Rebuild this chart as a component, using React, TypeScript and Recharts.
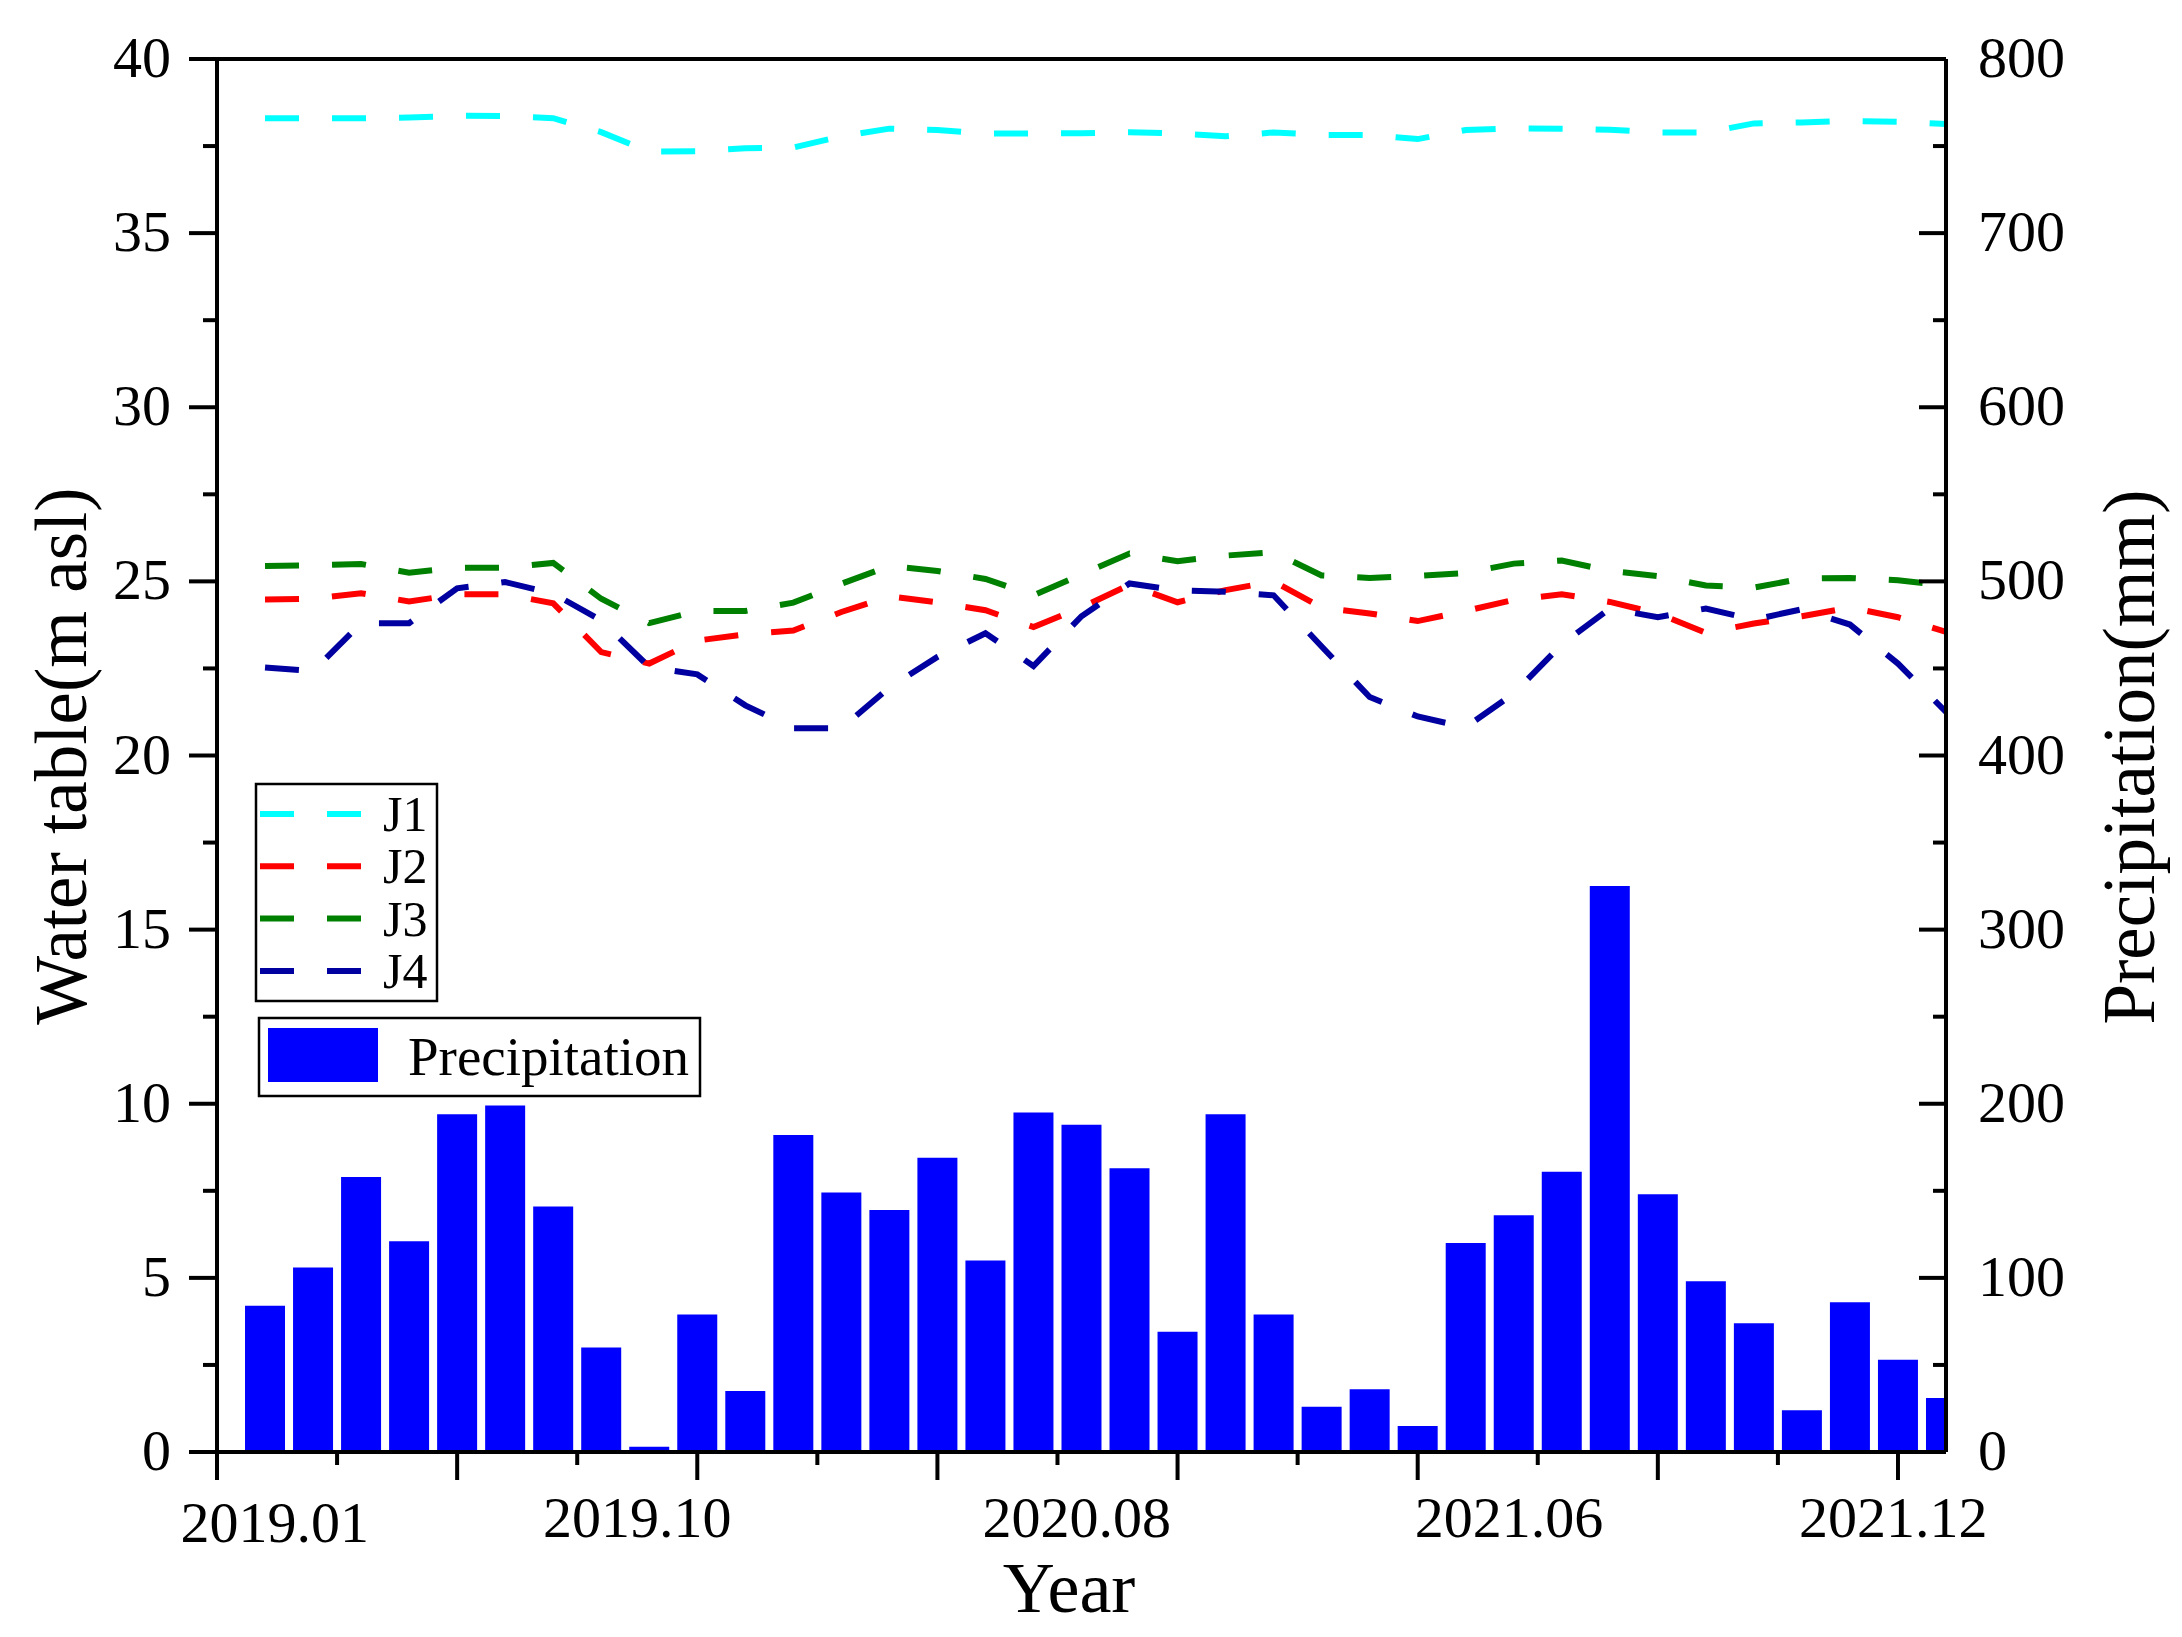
import { ComposedChart, Bar, Line, XAxis, YAxis, ReferenceLine, Legend } from 'recharts';

// #region data
const precipitation = [
  84, 106, 158, 121, 194, 199, 141, 60, 3, 79, 35, 182, 149, 139, 169, 110, 195, 188,
  163, 69, 194, 79, 26, 36, 15, 120, 136, 161, 325, 148, 98, 74, 24, 86, 53, 31,
];
const j1 = [
  38.3, 38.3, 38.3, 38.32, 38.37, 38.36, 38.3, 37.9, 37.34, 37.35, 37.44, 37.46, 37.78, 38.0, 37.96, 37.86, 37.86, 37.87,
  37.9, 37.86, 37.78, 37.89, 37.82, 37.82, 37.7, 37.96, 38.01, 38.0, 37.97, 37.89, 37.89, 38.15, 38.18, 38.22, 38.2, 38.13,
];
const j2 = [
  24.48, 24.5, 24.66, 24.42, 24.63, 24.63, 24.37, 22.97, 22.64, 23.3, 23.48, 23.59, 24.12, 24.57, 24.4, 24.17, 23.69, 24.25,
  24.9, 24.4, 24.75, 25.0, 24.25, 24.08, 23.86, 24.15, 24.47, 24.63, 24.41, 24.08, 23.52, 23.79, 24.0, 24.25, 23.97, 23.55,
];
const j3 = [
  25.44, 25.46, 25.5, 25.25, 25.39, 25.39, 25.53, 24.5, 23.8, 24.15, 24.15, 24.39, 24.93, 25.44, 25.3, 25.07, 24.6, 25.2,
  25.8, 25.58, 25.74, 25.84, 25.17, 25.1, 25.16, 25.24, 25.51, 25.6, 25.3, 25.15, 24.88, 24.82, 25.08, 25.1, 25.03, 24.88,
];
const j4 = [
  22.53, 22.42, 23.8, 23.8, 24.8, 24.98, 24.65, 23.88, 22.54, 22.33, 21.44, 20.78, 20.78, 21.95, 22.83, 23.51, 22.57, 24.0,
  24.94, 24.74, 24.7, 24.6, 23.13, 21.68, 21.12, 20.81, 21.78, 23.19, 24.22, 23.97, 24.22, 23.9, 24.2, 23.76, 22.64, 21.25,
];
// #endregion

const tickLabels = ['2019.01', '2019.10', '2020.08', '2021.06', '2021.12'];
const labelPositions = [1.2, 8.75, 17.9, 26.9, 34.9];
const xTicks = [0, 2.5, 5, 7.5, 10, 12.5, 15, 17.5, 20, 22.5, 25, 27.5, 30, 32.5, 35];
const leftTicks = [0, 2.5, 5, 7.5, 10, 12.5, 15, 17.5, 20, 22.5, 25, 27.5, 30, 32.5, 35, 37.5, 40];
const rightTicks = [0, 50, 100, 150, 200, 250, 300, 350, 400, 450, 500, 550, 600, 650, 700, 750, 800];

const data = precipitation.map((p, i) => ({
  idx: i + 1,
  precip: p,
  J1: j1[i],
  J2: j2[i],
  J3: j3[i],
  J4: j4[i],
}));

const FONT = '"Liberation Serif", "Times New Roman", serif';
const PLOT = { left: 217, right: 1946, top: 59, bottom: 1452 };
const DASH = '34 33';

function LeftTick({ y, payload }: any) {
  const major = payload.value % 5 === 0;
  return (
    <g>
      <line x1={PLOT.left} x2={PLOT.left - (major ? 28 : 14)} y1={y} y2={y} stroke="#000" strokeWidth={4} />
      {major && (
        <text x={171} y={y + 18} textAnchor="end" fontSize={58} fontFamily={FONT} fill="#000">
          {payload.value}
        </text>
      )}
    </g>
  );
}

function RightTick({ y, payload }: any) {
  const major = payload.value % 100 === 0;
  return (
    <g>
      <line x1={PLOT.right} x2={PLOT.right - (major ? 27 : 13)} y1={y} y2={y} stroke="#000" strokeWidth={4} />
      {major && (
        <text x={1978} y={y + 18} textAnchor="start" fontSize={58} fontFamily={FONT} fill="#000">
          {payload.value}
        </text>
      )}
    </g>
  );
}

function BottomTick({ x, payload }: any) {
  const v = payload.value;
  const li = labelPositions.indexOf(v);
  if (li >= 0) {
    return (
      <text x={x} y={li === 0 ? 1542 : 1537} textAnchor="middle" fontSize={58} fontFamily={FONT} fill="#000">
        {tickLabels[li]}
      </text>
    );
  }
  const major = v % 5 === 0;
  return <line x1={x} x2={x} y1={PLOT.bottom} y2={PLOT.bottom + (major ? 28 : 13)} stroke="#000" strokeWidth={4} />;
}

function LegendBoxes({ payload }: any) {
  const items = payload || [];
  const lines = items.filter((p: any) => p.dataKey !== 'precip');
  const bar = items.find((p: any) => p.dataKey === 'precip');
  return (
    <svg width={460} height={330} style={{ display: 'block' }}>
      <rect x={6} y={6} width={181} height={217} fill="#fff" stroke="#000" strokeWidth={2.5} />
      {lines.map((p: any, i: number) => {
        const ly = 36 + i * 52.3;
        return (
          <g key={p.value}>
            <line x1={10} x2={111} y1={ly} y2={ly} stroke={p.color} strokeWidth={6} strokeDasharray={DASH} />
            <text x={133} y={ly + 17} fontSize={50} fontFamily={FONT} fill="#000">
              {p.value}
            </text>
          </g>
        );
      })}
      {bar && (
        <g>
          <rect x={9} y={240} width={441} height={78} fill="#fff" stroke="#000" strokeWidth={2.5} />
          <rect x={18} y={250} width={110} height={54} fill={bar.color} />
          <text x={158} y={297} fontSize={55} fontFamily={FONT} fill="#000">
            {bar.value}
          </text>
        </g>
      )}
    </svg>
  );
}

export default function App() {
  return (
    <div style={{ position: 'absolute', left: 0, top: 0, width: 2182, height: 1637, background: '#fff' }}>
      <ComposedChart width={2182} height={1637} data={data} margin={{ top: PLOT.top, right: 0, bottom: 0, left: 0 }}>
        <XAxis
          dataKey="idx"
          type="number"
          domain={[0, 36]}
          ticks={xTicks.concat(labelPositions)}
          interval={0}
          tick={BottomTick}
          tickLine={false}
          axisLine={{ stroke: '#000', strokeWidth: 4 }}
          height={185}
          allowDataOverflow
          label={() => (
            <text x={1069} y={1612} textAnchor="middle" fontSize={72} fontFamily={FONT} fill="#000">
              Year
            </text>
          )}
        />
        <YAxis
          yAxisId="left"
          domain={[0, 40]}
          ticks={leftTicks}
          interval={0}
          tick={LeftTick}
          tickLine={false}
          axisLine={{ stroke: '#000', strokeWidth: 4 }}
          width={217}
          label={() => (
            <text
              x={86}
              y={756}
              transform="rotate(-90, 86, 756)"
              textAnchor="middle"
              fontSize={73}
              fontFamily={FONT}
              fill="#000"
            >
              Water table(m asl)
            </text>
          )}
        />
        <YAxis
          yAxisId="right"
          orientation="right"
          domain={[0, 800]}
          ticks={rightTicks}
          interval={0}
          tick={RightTick}
          tickLine={false}
          axisLine={{ stroke: '#000', strokeWidth: 4 }}
          width={236}
          label={() => (
            <text
              x={2154}
              y={757}
              transform="rotate(-90, 2154, 757)"
              textAnchor="middle"
              fontSize={73}
              fontFamily={FONT}
              fill="#000"
            >
              Precipitation(mm)
            </text>
          )}
        />
        <ReferenceLine yAxisId="left" y={40} stroke="#000" strokeWidth={4} />

        <Bar dataKey="precip" name="Precipitation" yAxisId="right" fill="#0000FF" barSize={40} isAnimationActive={false} />

        <Line type="linear" dataKey="J1" name="J1" yAxisId="left" stroke="#00FFFF" strokeWidth={6} strokeDasharray={DASH} dot={false} activeDot={false} isAnimationActive={false} />
        <Line type="linear" dataKey="J2" name="J2" yAxisId="left" stroke="#FF0000" strokeWidth={6} strokeDasharray={DASH} dot={false} activeDot={false} isAnimationActive={false} />
        <Line type="linear" dataKey="J3" name="J3" yAxisId="left" stroke="#008000" strokeWidth={6} strokeDasharray={DASH} dot={false} activeDot={false} isAnimationActive={false} />
        <Line type="linear" dataKey="J4" name="J4" yAxisId="left" stroke="#0000A0" strokeWidth={6} strokeDasharray={DASH} dot={false} activeDot={false} isAnimationActive={false} />

        <Legend
          layout="vertical"
          align="center"
          verticalAlign="middle"
          content={LegendBoxes}
          wrapperStyle={{ position: 'absolute', left: 250, top: 778, width: 460, height: 330, margin: 0 }}
        />
      </ComposedChart>
    </div>
  );
}
